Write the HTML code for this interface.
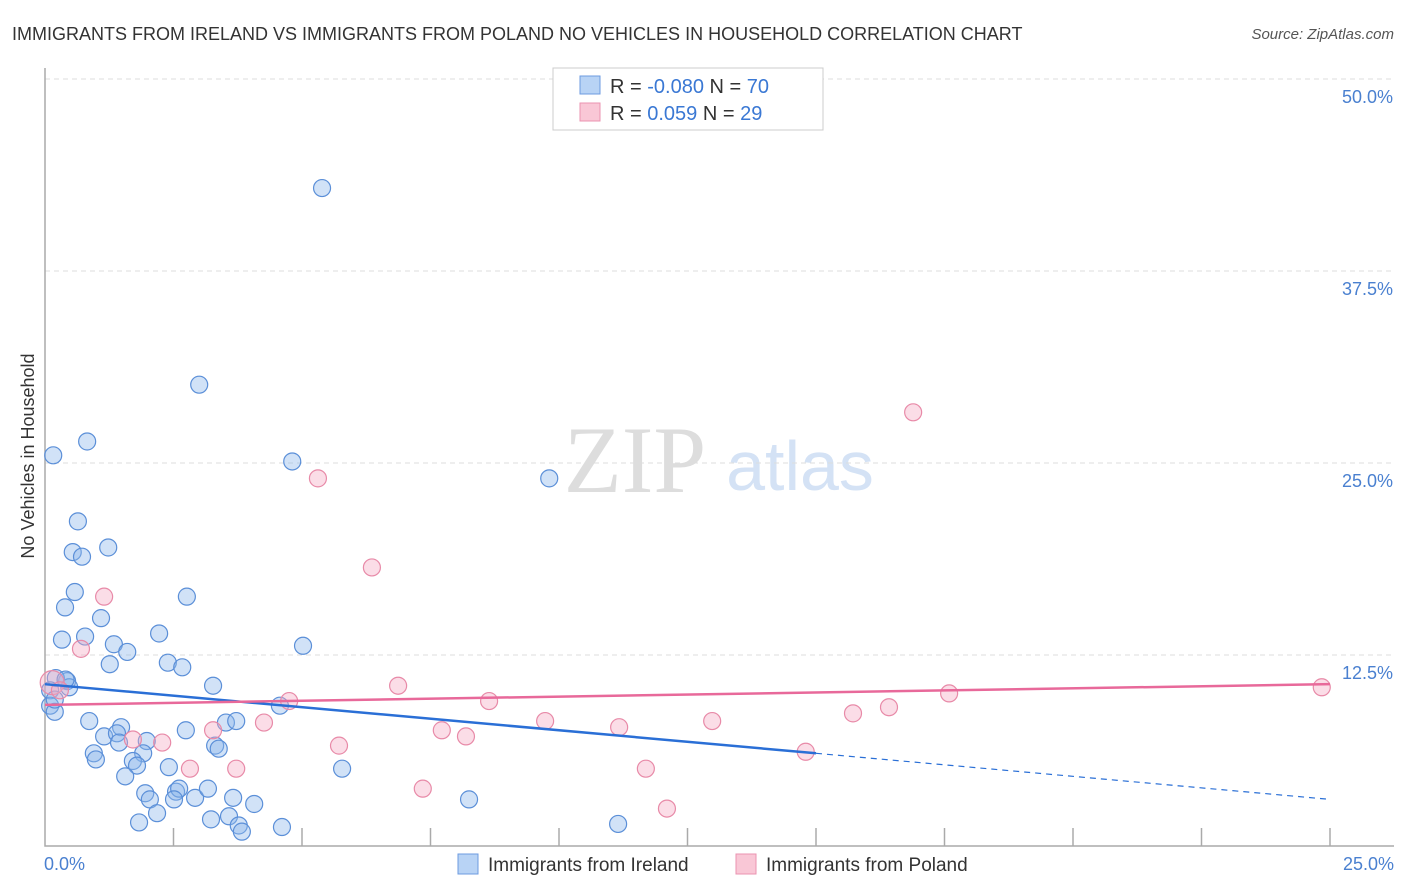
<!DOCTYPE html>
<html><head><meta charset="utf-8"><style>
body{margin:0;background:#fff;font-family:"Liberation Sans",sans-serif}
</style></head><body>
<svg id="c" width="1406" height="892" style="display:block">
<text x="12" y="40" font-size="18" fill="#333">IMMIGRANTS FROM IRELAND VS IMMIGRANTS FROM POLAND NO VEHICLES IN HOUSEHOLD CORRELATION CHART</text>
<text x="1394" y="39" font-size="15" fill="#555" font-style="italic" text-anchor="end">Source: ZipAtlas.com</text>
<text x="635" y="492" font-size="95" fill="#ddd" font-family="Liberation Serif" text-anchor="middle">ZIP</text>
<text x="800" y="490" font-size="70" fill="#d4e2f5" text-anchor="middle">atlas</text>
<text x="34" y="456" font-size="18" fill="#333" text-anchor="middle" transform="rotate(-90 34 456)">No Vehicles in Household</text>
<g id="grid"></g><g id="pts"></g><g id="lines"></g>
<g>
<rect x="553" y="68" width="270" height="62" fill="#fff" stroke="#ccc"/>
<rect x="580" y="76" width="20" height="18" fill="#b8d3f5" stroke="#6d9be0"/>
<rect x="580" y="103" width="20" height="18" fill="#f9c7d6" stroke="#eb93b0"/>
<text x="610" y="93" font-size="20" fill="#333">R = <tspan fill="#3a78d4">-0.080</tspan>   N = <tspan fill="#3a78d4">70</tspan></text>
<text x="610" y="120" font-size="20" fill="#333">R =  <tspan fill="#3a78d4"> 0.059</tspan>   N = <tspan fill="#3a78d4">29</tspan></text>
</g>
<g>
<rect x="458" y="854" width="20" height="20" fill="#b8d3f5" stroke="#6d9be0"/>
<text x="488" y="871" font-size="19" fill="#333">Immigrants from Ireland</text>
<rect x="736" y="854" width="20" height="20" fill="#f9c7d6" stroke="#eb93b0"/>
<text x="766" y="871" font-size="19" fill="#333">Immigrants from Poland</text>
</g>
</svg>
<script>
const irelandX=[5.39,3.00,0.16,0.82,4.81,9.81,0.64,0.54,0.72,1.23,0.58,2.76,0.39,1.09,0.78,0.33,2.22,1.34,1.60,5.02,1.26,2.39,2.67,3.27,0.43,0.47,0.21,0.10,0.10,0.19,4.57,0.86,1.48,2.74,3.52,3.72,1.15,1.40,1.44,1.98,3.31,3.38,0.95,0.99,1.91,1.71,1.79,2.41,5.78,1.56,1.95,2.04,2.55,2.61,2.51,2.92,3.17,3.66,4.07,8.25,2.18,1.83,3.23,3.58,3.77,3.83,4.61,11.15,0.19,0.40];
const irelandY=[42.9,30.1,25.5,26.4,25.1,24.0,21.2,19.2,18.9,19.5,16.6,16.3,15.6,14.9,13.7,13.5,13.9,13.2,12.7,13.1,11.9,12.0,11.7,10.5,10.8,10.4,11.0,10.2,9.2,8.8,9.2,8.2,7.8,7.6,8.1,8.2,7.2,7.4,6.8,6.9,6.6,6.4,6.1,5.7,6.1,5.6,5.3,5.2,5.1,4.6,3.5,3.1,3.6,3.8,3.1,3.2,3.8,3.2,2.8,3.1,2.2,1.6,1.8,2.0,1.4,1.0,1.3,1.5,9.6,10.9];
const polandX=[16.89,5.31,6.36,1.15,0.70,0.14,0.29,6.87,4.75,8.64,17.59,24.84,16.42,15.72,9.73,12.98,4.26,11.17,3.27,7.72,8.19,1.71,2.28,5.72,14.80,2.82,3.72,11.69,7.35,12.10];
const polandY=[28.3,24.0,18.2,16.3,12.9,10.7,10.2,10.5,9.5,9.5,10.0,10.4,9.1,8.7,8.2,8.2,8.1,7.8,7.6,7.6,7.2,7.0,6.8,6.6,6.2,5.1,5.1,5.1,3.8,2.5];
const yTicks=[12.5,25.0,37.5,50.0];
const xTickLabels=["0.0%","25.0%"];
const irelandTrend=[10.6,3.1];
const polandTrend=[9.25,10.6];
const NS="http://www.w3.org/2000/svg";
const sx=v=>45+v/25*1285, sy=v=>847-v/12.5*192;
function mk(t,a,p){const e=document.createElementNS(NS,t);for(const k in a)e.setAttribute(k,a[k]);p.appendChild(e);return e;}
const grid=document.getElementById('grid');
yTicks.forEach(t=>{
 const l=mk('line',{x1:45,x2:1394,y1:sy(t),y2:sy(t),stroke:'#ddd','stroke-dasharray':'5,4'},grid);
 
 
 const tx=mk('text',{x:1393,y:sy(t)+24,'font-size':18,fill:'#4a80d0','text-anchor':'end'},grid);
 tx.textContent=t.toFixed(1)+'%';
 
 
});
const ax=mk('path',{d:'M45,68 V846 H1394',fill:'none',stroke:'#aaa','stroke-width':1.5},grid);


for(let i=1;i<=10;i++){const t=mk('line',{x1:sx(i*2.5),x2:sx(i*2.5),y1:828,y2:846,stroke:'#aaa','stroke-width':1.5},grid);
 
 }
[[0,'start',44],[25,'end',1394]].forEach((d,i)=>{const t=mk('text',{x:d[2],y:870,'font-size':18,fill:'#4a80d0','text-anchor':d[1]},grid);t.textContent=xTickLabels[i];
 
 });
const pts=document.getElementById('pts');
irelandX.forEach((x,i)=>{const c=mk('circle',{cx:sx(x),cy:sy(irelandY[i]),r:8.5,fill:'rgba(140,182,236,0.4)',stroke:'#5b8fd8','stroke-width':1.2},pts);
 
 });
polandX.forEach((x,i)=>{const c=mk('circle',{cx:sx(x),cy:sy(polandY[i]),r:i==5?12:8.5,fill:'rgba(245,170,196,0.4)',stroke:'#e88aa8','stroke-width':1.2},pts);
 
 });
const lines=document.getElementById('lines');
const bAt=x=>irelandTrend[0]+(irelandTrend[1]-irelandTrend[0])*x/25;
let l1=mk('line',{x1:sx(0),y1:sy(bAt(0)),x2:sx(15),y2:sy(bAt(15)),stroke:'#2a6fd6','stroke-width':2.5},lines);


let l2=mk('line',{x1:sx(15),y1:sy(bAt(15)),x2:sx(25),y2:sy(bAt(25)),stroke:'#2a6fd6','stroke-width':1.2,'stroke-dasharray':'6,5'},lines);


let l3=mk('line',{x1:sx(0),y1:sy(polandTrend[0]),x2:sx(25),y2:sy(polandTrend[1]),stroke:'#e8699a','stroke-width':2.5},lines);


</script>
</body></html>
